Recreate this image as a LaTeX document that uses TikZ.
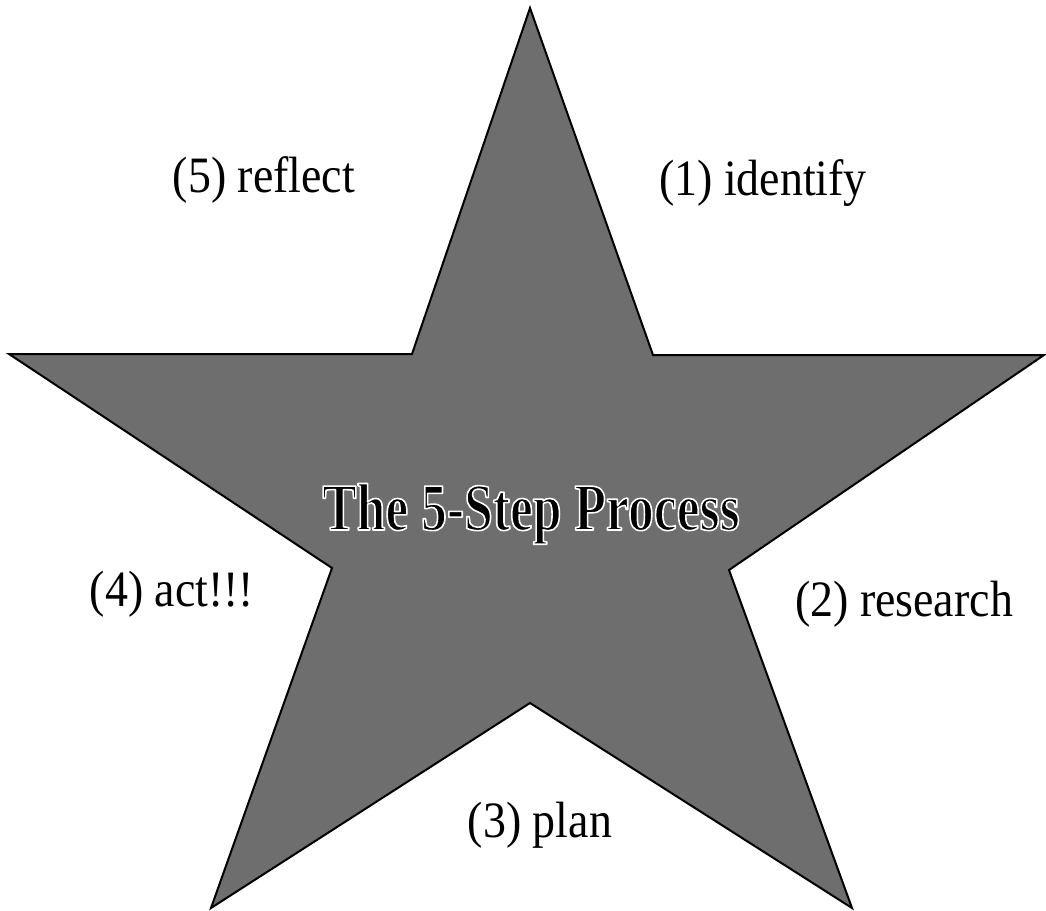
\documentclass[tikz,border=0pt]{standalone}
\usepackage{fontspec}
\setmainfont{Liberation Serif}
\newfontfamily\labfont[FakeStretch=0.9]{Liberation Serif}
\newfontfamily\titfont[FakeStretch=0.77]{Liberation Serif Bold}
\newcommand{\haloon}{\special{pdf:literal direct 1 1 1 RG 1.6 w 1 j 2 Tr}}
\newcommand{\halooff}{\special{pdf:literal direct 0 Tr 0 0 0 RG}}
\begin{document}
\begin{tikzpicture}[x=1pt,y=-1pt,
  lab/.style={font=\labfont\fontsize{51}{55}\selectfont, inner sep=0pt, anchor=center},
  tit/.style={font=\titfont\fontsize{67}{72}\selectfont, inner sep=0pt, anchor=base},
  starfill/.style={fill=black!57, draw=black, line width=2pt, line join=miter}]
\useasboundingbox (0,0) rectangle (1046,910);
\coordinate (top) at (530,8);
\coordinate (iur) at (653,355);
\coordinate (right) at (1044,355);
\coordinate (ir) at (729,570);
\coordinate (br) at (852,908);
\coordinate (ib) at (530,703);
\coordinate (bl) at (211,908);
\coordinate (il) at (332,568);
\coordinate (left) at (9,354);
\coordinate (iul) at (412,354);
\draw[starfill] (top) -- (iur) -- (right) -- (ir) -- (br) -- (ib) -- (bl) -- (il) -- (left) -- (iul) -- cycle;
\node[tit, text=black] (title) at (531,530) {\haloon The 5-Step Process\halooff};
\node[lab] (s5) at (264,180) {(5) reflect};
\node[lab] (s1) at (763,183) {(1) identify};
\node[lab] (s4) at (172,594) {(4) act!!!};
\node[lab] (s2) at (904,604) {(2) research};
\node[lab] (s3) at (540,825) {(3) plan};
\end{tikzpicture}
\end{document}
